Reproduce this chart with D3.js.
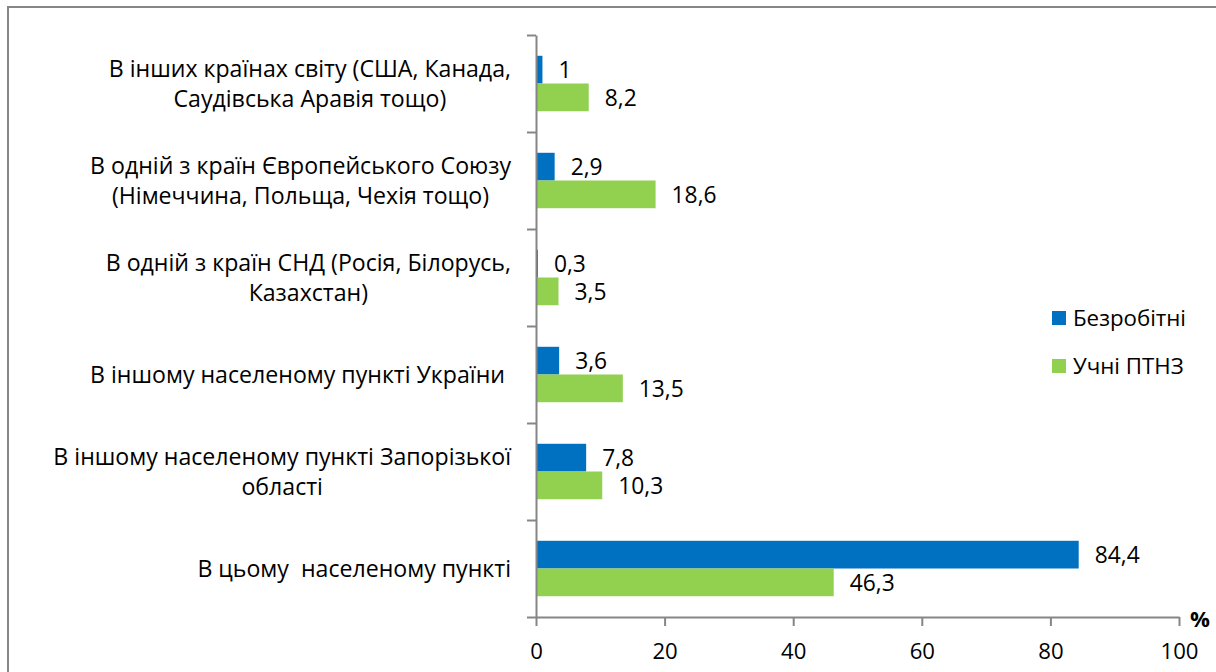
<!DOCTYPE html>
<html>
<head>
<meta charset="utf-8">
<script src="https://cdn.jsdelivr.net/npm/d3@7"></script>
<style>
  html, body { margin: 0; padding: 0; background: #fff; }
  svg { display: block; }
  text { font-family: "Open Sans", "Noto Sans", sans-serif; fill: #000; white-space: pre; }
</style>
</head>
<body>
<div id="chart"></div>
<script>
(function () {
  'use strict';

  // Categories, top to bottom (lines split as in the original)
  const CATEGORIES = [
    ['В інших країнах світу (США, Канада,', 'Саудівська Аравія тощо)'],
    ['В одній з країн Європейського Союзу', '(Німеччина, Польща, Чехія тощо)'],
    ['В одній з країн СНД (Росія, Білорусь,', 'Казахстан)'],
    ['В іншому населеному пункті України '],
    ['В іншому населеному пункті Запорізької', 'області'],
    ['В цьому  населеному пункті']
  ];
  const SERIES = ['Безробітні', 'Учні ПТНЗ'];
  const UNEMPLOYED = [1, 2.9, 0.3, 3.6, 7.8, 84.4];
  const STUDENTS   = [8.2, 18.6, 3.5, 13.5, 10.3, 46.3];
  const X_TICKS = [0, 20, 40, 60, 80, 100];
  const COLORS = ['#0070C0', '#92D050'];

  const W = 1216, H = 672;
  const AXIS_GREY = '#868686';

  const svg = d3.select('#chart').append('svg')
    .attr('width', W).attr('height', H);

  // pick a font size so a sample string gets the width it has in the original
  function fitSize(sample, targetW, weight) {
    const t = svg.append('text').attr('font-size', 20)
      .attr('font-weight', weight || 400).text(sample);
    const w = t.node().getComputedTextLength();
    t.remove();
    return 20 * targetW / w;
  }
  const catSize = fitSize('В іншому населеному пункті Запорізької', 458);
  const legSize = fitSize('Безробітні', 113);
  const valSize = fitSize('84,4', 45);
  const tickSize = fitSize('100', 38);

  // chart frame (runs off the bottom/right edge in the original)
  svg.append('rect')
    .attr('x', 8).attr('y', 7)
    .attr('width', 1400).attr('height', 900)
    .attr('fill', 'none').attr('stroke', AXIS_GREY).attr('stroke-width', 2);

  const plot = { left: 536, right: 1179, top: 35, bottom: 617 };

  const x = d3.scaleLinear().domain([0, 100]).range([plot.left, plot.right]);
  const idx = d3.range(CATEGORIES.length);
  const y = d3.scaleBand().domain(idx).range([plot.top, plot.bottom]);
  const bw = y.bandwidth();
  const barH = bw / (SERIES.length + 1.5); // gap width 150%
  const inner = d3.scaleBand().domain(SERIES)
    .range([bw / 2 - barH, bw / 2 + barH]);

  const rows = idx.map(i => ({ i, vals: [UNEMPLOYED[i], STUDENTS[i]] }));

  // bars
  const groups = svg.append('g').selectAll('g')
    .data(rows).join('g')
    .attr('transform', d => `translate(0,${y(d.i)})`);

  groups.selectAll('rect')
    .data(d => d.vals.map((v, k) => ({ v, k })))
    .join('rect')
    .attr('x', x(0))
    .attr('y', d => inner(SERIES[d.k]))
    .attr('width', d => x(d.v) - x(0))
    .attr('height', inner.bandwidth())
    .attr('fill', d => COLORS[d.k]);

  // value labels
  groups.selectAll('text.val')
    .data(d => d.vals.map((v, k) => ({ v, k })))
    .join('text')
    .attr('class', 'val')
    .attr('x', d => x(d.v) + 16)
    .attr('y', d => inner(SERIES[d.k]) + inner.bandwidth() / 2)
    .attr('dy', '0.36em')
    .attr('font-size', valSize)
    .text(d => String(d.v).replace('.', ','));

  // x axis
  const xAxis = svg.append('g')
    .attr('transform', `translate(0,${plot.bottom})`)
    .call(d3.axisBottom(x).tickValues(X_TICKS).tickSize(9).tickSizeOuter(0).tickPadding(17));
  xAxis.selectAll('path, line').attr('stroke', AXIS_GREY).attr('stroke-width', 2);
  xAxis.selectAll('text').attr('font-size', tickSize)
    .attr('font-family', '"Open Sans", sans-serif').attr('fill', '#000');

  // y axis: ticks on category boundaries
  const yEdges = d3.scaleLinear().domain([0, CATEGORIES.length]).range([plot.bottom, plot.top]);
  const yAxis = svg.append('g')
    .attr('transform', `translate(${plot.left},0)`)
    .call(d3.axisLeft(yEdges).ticks(CATEGORIES.length).tickSize(9).tickSizeOuter(0).tickFormat(''));
  yAxis.selectAll('path, line').attr('stroke', AXIS_GREY).attr('stroke-width', 2);

  // "%" unit label
  svg.append('text')
    .attr('x', x(100) + 11).attr('y', plot.bottom + 10)
    .attr('font-size', tickSize).attr('font-weight', 700)
    .text('%');

  // category labels: block right-aligned, lines centred within it
  const LINE_H = 30;
  const catG = svg.append('g');
  CATEGORIES.forEach((lines, i) => {
    const t = catG.append('text').attr('font-size', catSize).attr('text-anchor', 'middle');
    const cy = y(i) + bw / 2;
    const y0 = cy - (lines.length - 1) * LINE_H / 2;
    lines.forEach((ln, j) => {
      t.append('tspan').attr('y', y0 + j * LINE_H).attr('dy', '0.36em').text(ln);
    });
    let maxW = 0;
    t.selectAll('tspan').each(function () {
      maxW = Math.max(maxW, this.getComputedTextLength());
    });
    t.selectAll('tspan').attr('x', 511 - maxW / 2);
  });

  // legend
  const legend = svg.append('g').attr('transform', 'translate(1052,0)');
  const legendY = [318, 366];
  SERIES.forEach((s, k) => {
    legend.append('rect')
      .attr('x', 0).attr('y', legendY[k] - 7)
      .attr('width', 14).attr('height', 14)
      .attr('fill', COLORS[k]);
    legend.append('text')
      .attr('x', 21).attr('y', legendY[k]).attr('dy', '0.36em')
      .attr('font-size', legSize)
      .text(s);
  });
})();
</script>
</body>
</html>
